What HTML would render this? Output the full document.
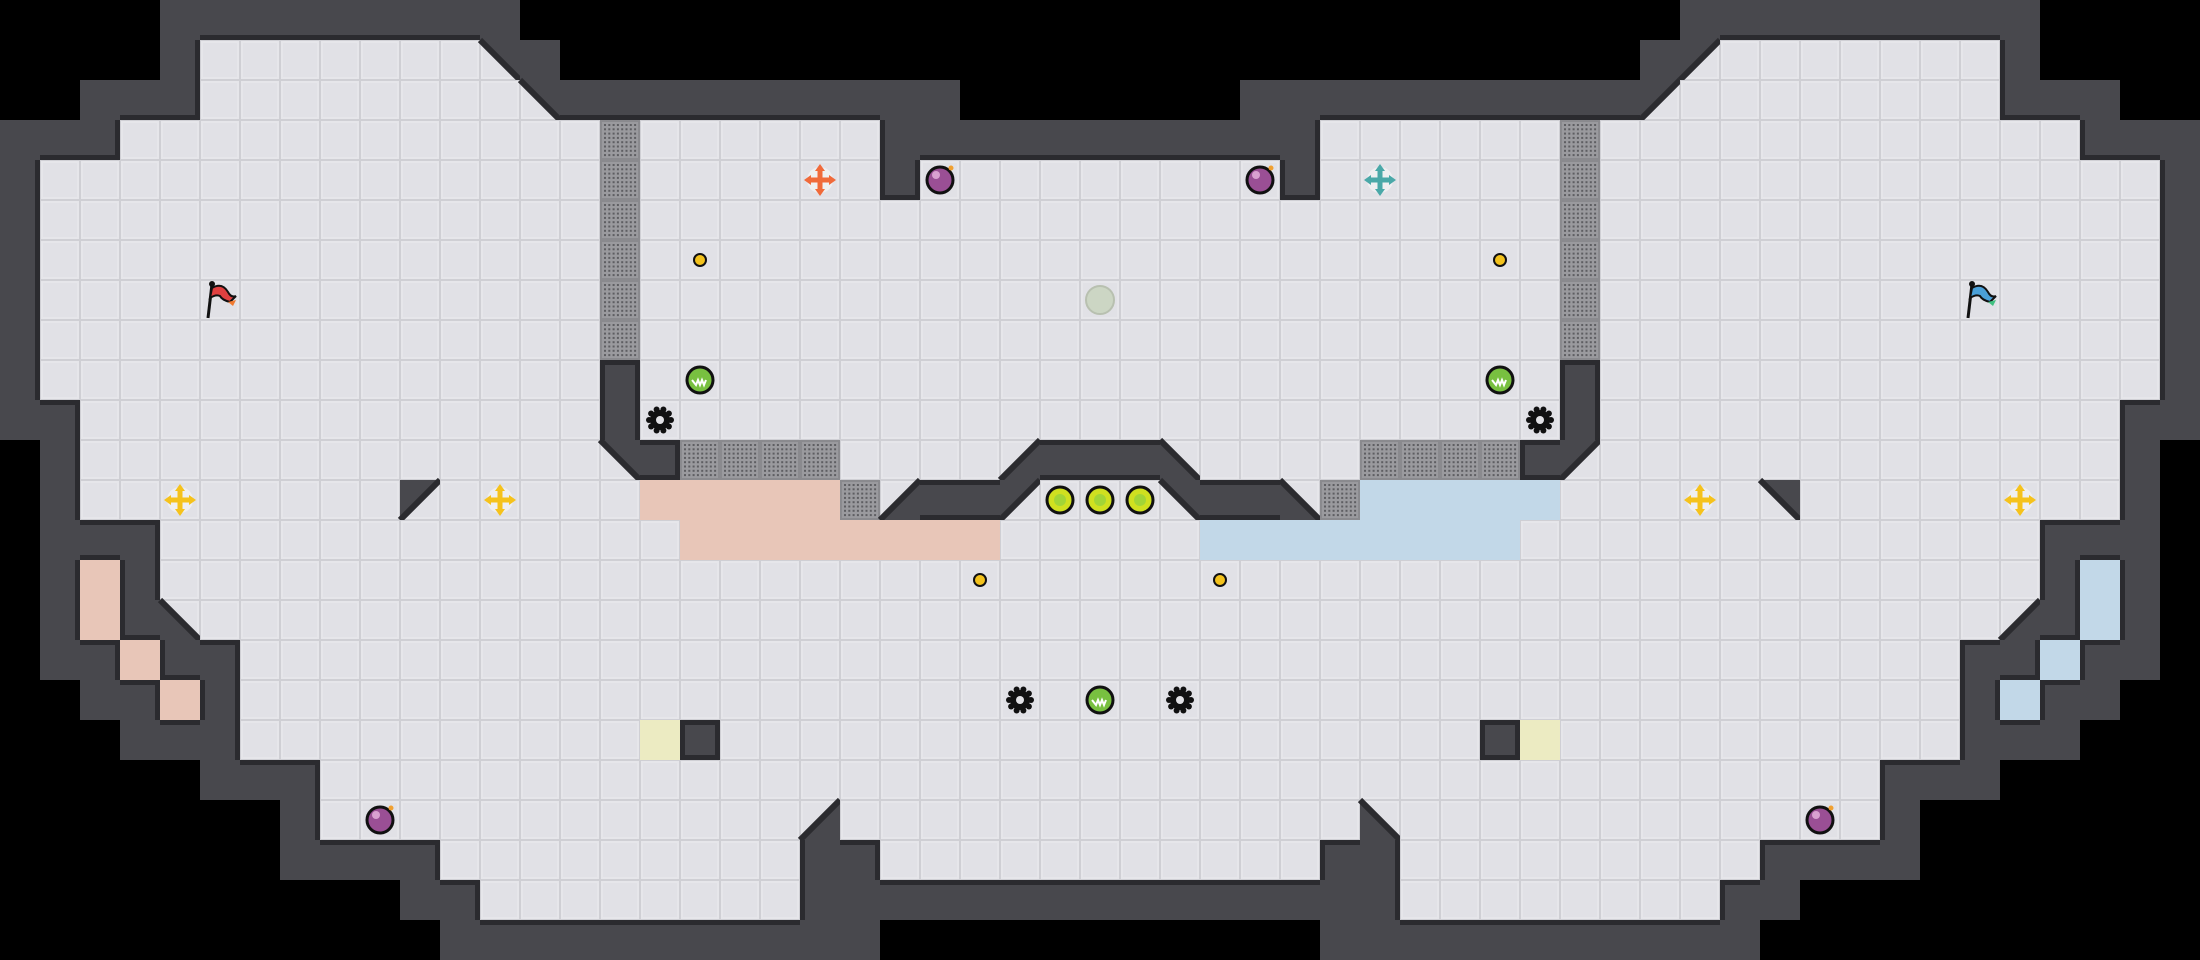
<!DOCTYPE html>
<html><head><meta charset="utf-8"><style>
html,body{margin:0;padding:0;background:#000;}
svg{display:block;}
</style></head><body>
<svg id="s" width="2200" height="960" viewBox="0 0 2200 960" xmlns="http://www.w3.org/2000/svg"><rect width="2200" height="960" fill="#000"/></svg>
<script>
const L=[
"    #########               ",
"    #.......B#              ",
"  ###........B##########    ",
"###............g......######",
"#..............g......#.....",
"#..............g............",
"#..............g............",
"#..............g............",
"#..............g............",
"#..............#............",
"##.............#............",
" #.............B#gggg....D##",
" #........A.....rrrrrgD##A..",
" ###.............rrrrrrrr...",
" #r#........................",
" #r#C.......................",
" ##r##......................",
"  ##r#......................",
"   ###..........y#..........",
"     ###....................",
"       #............D.......",
"       ####.........##......",
"          ##........########",
"           ###########      "];
const mir={A:'B',B:'A',C:'D',D:'C',r:'b'};
const G=[];
for(let r=0;r<24;r++){let row=L[r].padEnd(28,' ').split('');let full=row.slice();for(let c=28;c<55;c++){let ch=row[54-c];full.push(mir[ch]||ch);}G.push(full);}
const T=40;let h='';
const wall='#48484d',dark='#2b2b2f';
const isFloor=ch=>ch && '.grbyABCD'.includes(ch);
function floorTile(x,y){return `<rect x="${x}" y="${y}" width="40" height="40" fill="#cfcfd4"/><rect x="${x+1}" y="${y+1}" width="38" height="38" fill="#e6e6ea"/><rect x="${x+3}" y="${y+3}" width="34" height="34" fill="#e1e1e6"/>`;}
for(let r=0;r<24;r++)for(let c=0;c<55;c++){
 const ch=G[r][c],x=c*T,y=r*T;
 if(ch===' ')continue;
 if(ch==='#'){h+=`<rect x="${x}" y="${y}" width="40" height="40" fill="${wall}"/>`;
   const nb=[[0,-1,x,y,40,5],[0,1,x,y+35,40,5],[-1,0,x,y,5,40],[1,0,x+35,y,5,40]];
   for(const [dc,dr,rx,ry,w,hh] of nb){const n=(G[r+dr]||[])[c+dc];if(isFloor(n) && !'ABCD'.includes(n))h+=`<rect x="${rx}" y="${ry}" width="${w}" height="${hh}" fill="${dark}"/>`;}
   continue;}
 h+=floorTile(x,y);
 if(ch==='g'){h+=`<rect x="${x}" y="${y}" width="40" height="40" fill="#8a8a8e"/><rect x="${x+2}" y="${y+2}" width="36" height="36" fill="#9a9a9e"/>`;
   for(let i=0;i<8;i++)for(let j=0;j<8;j++)h+=`<rect x="${x+4+i*4.3}" y="${y+4+j*4.3}" width="2" height="2" fill="#5e5e62"/>`;}
 if(ch==='r')h+=`<rect x="${x}" y="${y}" width="40" height="40" fill="#e8c6b8"/>`;
 if(ch==='b')h+=`<rect x="${x}" y="${y}" width="40" height="40" fill="#c2d8e8"/>`;
 if(ch==='y')h+=`<rect x="${x}" y="${y}" width="40" height="40" fill="#ecebc2"/>`;
 let p=null,e=null;
 if(ch==='A'){p=[[x,y],[x+40,y],[x,y+40]];e=[[x+40,y],[x,y+40]];}
 if(ch==='B'){p=[[x,y],[x+40,y],[x+40,y+40]];e=[[x,y],[x+40,y+40]];}
 if(ch==='C'){p=[[x,y],[x+40,y+40],[x,y+40]];e=[[x,y],[x+40,y+40]];}
 if(ch==='D'){p=[[x+40,y],[x+40,y+40],[x,y+40]];e=[[x+40,y],[x,y+40]];}
 if(p)h+=`<polygon points="${p.map(a=>a.join(',')).join(' ')}" fill="${wall}"/><line x1="${e[0][0]}" y1="${e[0][1]}" x2="${e[1][0]}" y2="${e[1][1]}" stroke="${dark}" stroke-width="6"/>`;
}
function boost(cx,cy,col){return `<circle cx="${cx}" cy="${cy}" r="13" fill="#f2f2f4" opacity="0.8"/><g stroke="${col}" stroke-width="5" fill="${col}"><line x1="${cx-11}" y1="${cy}" x2="${cx+11}" y2="${cy}"/><line x1="${cx}" y1="${cy-11}" x2="${cx}" y2="${cy+11}"/></g><g fill="${col}"><polygon points="${cx},${cy-16} ${cx-5},${cy-9} ${cx+5},${cy-9}"/><polygon points="${cx},${cy+16} ${cx-5},${cy+9} ${cx+5},${cy+9}"/><polygon points="${cx-16},${cy} ${cx-9},${cy-5} ${cx-9},${cy+5}"/><polygon points="${cx+16},${cy} ${cx+9},${cy-5} ${cx+9},${cy+5}"/></g>`;}
function bomb(cx,cy){return `<circle cx="${cx}" cy="${cy}" r="13" fill="#9a4f95" stroke="#111" stroke-width="3"/><circle cx="${cx-4}" cy="${cy-5}" r="4" fill="#d9a0d0"/><circle cx="${cx+11}" cy="${cy-12}" r="2.5" fill="#f0a030"/>`;}
function gear(cx,cy){let s='';for(let i=0;i<10;i++){const a=i*Math.PI/5;s+=`<circle cx="${cx+11*Math.cos(a)}" cy="${cy+11*Math.sin(a)}" r="3" fill="#111"/>`;}return s+`<circle cx="${cx}" cy="${cy}" r="10" fill="#111"/><circle cx="${cx}" cy="${cy}" r="4" fill="#e2e2e6"/>`;}
function green(cx,cy){return `<circle cx="${cx}" cy="${cy}" r="13" fill="#78c040" stroke="#111" stroke-width="3"/><path d="M${cx-8} ${cy} l4 5 l2 -5 l2 5 l2 -5 l2 5 l2 -5" stroke="#fff" stroke-width="2" fill="none"/>`;}
function ball(cx,cy){return `<circle cx="${cx}" cy="${cy}" r="13" fill="#cfe020" stroke="#111" stroke-width="3"/><circle cx="${cx}" cy="${cy}" r="6" fill="#8fd040" opacity="0.7"/>`;}
function dot(cx,cy){return `<circle cx="${cx}" cy="${cy}" r="6" fill="#f3c21c" stroke="#111" stroke-width="2"/>`;}
function flag(cx,cy,col,col2){return `<line x1="${cx-12}" y1="${cy+18}" x2="${cx-8}" y2="${cy-16}" stroke="#111" stroke-width="3"/><circle cx="${cx-8}" cy="${cy-16}" r="3" fill="#111"/><path d="M${cx-8} ${cy-12} q10 -6 16 4 q3 6 8 4 l-6 6 q-8 -2 -10 -6 q-4 -2 -10 2 z" fill="${col}" stroke="#111" stroke-width="2"/><path d="M${cx+8} ${cy+2} l8 -2 l-3 6 z" fill="${col2}"/>`;}
const C=(c)=>c*40+20;
h+=boost(C(20),C(4),'#f06a3a')+boost(C(34),C(4),'#4aa8a8');
h+=boost(C(4),C(12),'#f5c21c')+boost(C(12),C(12),'#f5c21c')+boost(C(42),C(12),'#f5c21c')+boost(C(50),C(12),'#f5c21c');
h+=bomb(C(23),C(4))+bomb(C(31),C(4))+bomb(C(9),C(20))+bomb(C(45),C(20));
h+=dot(C(17),C(6))+dot(C(37),C(6))+dot(C(24),C(14))+dot(C(30),C(14));
h+=`<circle cx="${C(27)}" cy="${C(7)}" r="14" fill="#ccd6c4" stroke="#b8c0b0" stroke-width="2"/>`;
h+=green(C(17),C(9))+green(C(37),C(9))+green(C(27),C(17));
h+=gear(C(16),C(10))+gear(C(38),C(10))+gear(C(25),C(17))+gear(C(29),C(17));
h+=ball(C(26),C(12))+ball(C(27),C(12))+ball(C(28),C(12));
h+=flag(C(5),C(7),'#e04040','#f07a30')+flag(C(49),C(7),'#4aa0d8','#40c080');
document.getElementById('s').insertAdjacentHTML('beforeend',h);
</script>
</body></html>
